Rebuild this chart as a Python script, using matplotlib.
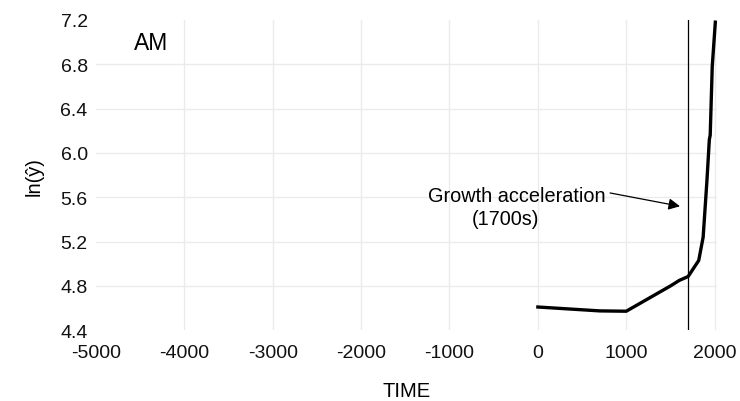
import matplotlib
matplotlib.use("Agg")
import matplotlib.pyplot as plt

plt.rcParams['font.family'] = ['Liberation Sans', 'DejaVu Sans']

# Data
years = [0, 400, 700, 1000, 1500, 1600, 1700, 1820, 1870, 1913, 1940, 1950, 1973, 2008]
ln_y = [4.61, 4.59, 4.575, 4.572, 4.80, 4.85, 4.885, 5.03, 5.24, 5.75, 6.12, 6.16, 6.78, 7.18]

x_ticks = [-5000, -4000, -3000, -2000, -1000, 0, 1000, 2000]
y_ticks = [4.4, 4.8, 5.2, 5.6, 6.0, 6.4, 6.8, 7.2]
y_tick_labels = ["4.4", "4.8", "5.2", "5.6", "6.0", "6.4", "6.8", "7.2"]
accel_year = 1700
panel_label = "AM"
annot_line1 = "Growth acceleration"
annot_line2 = "(1700s)"

fig = plt.figure(figsize=(7.4, 4.02), dpi=100)
ax = fig.add_axes([0.1297, 0.1759, 0.839, 0.772])

xmin, xmax = -5000, 2025
ymin, ymax = 4.4, 7.2
ax.set_xlim(xmin, xmax)
ax.set_ylim(ymin, ymax)

grid_c = '#ebebeb'
for xt in x_ticks:
    if xmin < xt < xmax:
        ax.axvline(xt, color=grid_c, lw=1.0, zorder=0)
for yt in y_ticks:
    if ymin < yt < ymax:
        ax.axhline(yt, color=grid_c, lw=1.0, zorder=0)

ax.plot(years, ln_y, color='black', lw=2.4, solid_joinstyle='round', zorder=3)
ax.axvline(accel_year, color='black', lw=0.9, zorder=2)

ax.annotate('', xy=(1608, 5.519), xytext=(817, 5.639),
            arrowprops=dict(arrowstyle='-|>', color='black', lw=0.9,
                            mutation_scale=17, shrinkA=0, shrinkB=0), zorder=4)
ax.text(-240, 5.567, annot_line1, ha='center', va='baseline', fontsize=14.3)
ax.text(-370, 5.359, annot_line2, ha='center', va='baseline', fontsize=14.3)
ax.text(-4381, 6.939, panel_label, ha='center', va='baseline', fontsize=16.5)

ax.set_xticks(x_ticks)
ax.set_xticklabels([str(v) for v in x_ticks])
ax.set_yticks(y_ticks)
ax.set_yticklabels(y_tick_labels)
ax.tick_params(axis='both', length=0, labelsize=14, labelcolor='#111111')
ax.tick_params(axis='x', pad=10)
ax.tick_params(axis='y', pad=6)

for s in ax.spines.values():
    s.set_visible(False)

ax.set_xlabel('TIME', fontsize=14.5, labelpad=14)
ax.set_ylabel('ln(ŷ)', fontsize=14.5, labelpad=12)

fig.savefig('out.png', dpi=100)
